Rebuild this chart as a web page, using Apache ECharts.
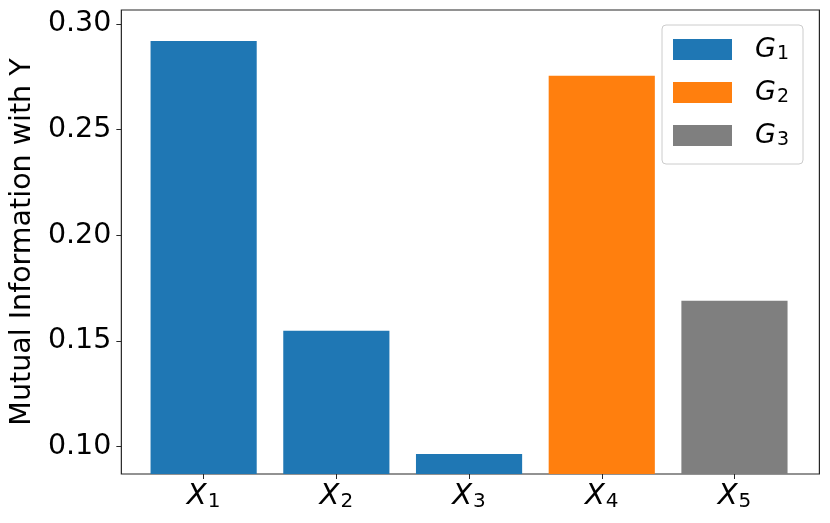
<!DOCTYPE html>
<html>
<head>
<meta charset="utf-8">
<script src="https://cdn.jsdelivr.net/npm/echarts@6/dist/echarts.min.js"></script>
<style>
html,body{margin:0;padding:0;background:#fff;}
#chart{width:830px;height:523px;}
</style>
</head>
<body>
<div id="chart"></div>
<script>
// ---- data ----
const categories = ['1', '2', '3', '4', '5'];          // subscripts of X
const values = [0.2920, 0.1549, 0.0966, 0.2755, 0.1691];
const groupOf = ['1', '1', '1', '2', '3'];             // group of each bar
const groups = ['1', '2', '3'];                        // subscripts of G
const groupColors = ['#1f77b4', '#ff7f0e', '#7f7f7f'];
const yTicks = [0.10, 0.15, 0.20, 0.25, 0.30];
const yMin = 0.08708, yMax = 0.30662;
const yTitle = 'Mutual Information with Y';

const FONT = 'DejaVu Sans';
const chart = echarts.init(document.getElementById('chart'), null, {renderer: 'canvas'});

const series = groups.map((g, gi) => ({
  name: 'G' + g,
  type: 'bar',
  xAxisIndex: 1,
  yAxisIndex: 1,
  barWidth: '80%',
  barGap: '-100%',
  itemStyle: {color: groupColors[gi]},
  data: values.map((v, i) => groupOf[i] === g ? v : '-')
}));

const option = {
  animation: false,
  backgroundColor: '#fff',
  grid: [
    {left: 118.7, right: 10.6, top: 10, bottom: 49, show: true,
     borderColor: '#262626', borderWidth: 1.2, backgroundColor: 'transparent'},
    {left: 137.28, right: 29.18, top: 10, bottom: 49}
  ],
  xAxis: [
    {gridIndex: 0, type: 'value', min: 0, max: 1, show: false},
    {gridIndex: 1, type: 'category', data: categories,
     axisLine: {show: false},
     axisTick: {show: true, alignWithLabel: true, length: 5, lineStyle: {color: '#262626', width: 1}},
     axisLabel: {
       margin: 8,
       formatter: v => '{x|X}{s|' + v + '}',
       rich: {
         x: {fontFamily: FONT, fontStyle: 'italic', fontSize: 29, lineHeight: 29, color: '#000', verticalAlign: 'top'},
         s: {fontFamily: FONT, fontSize: 20, lineHeight: 20, color: '#000', verticalAlign: 'top', padding: [10, 0, 0, 1]}
       }
     },
     splitLine: {show: false}}
  ],
  yAxis: [
    {gridIndex: 0, type: 'value', min: yMin, max: yMax,
     name: yTitle, nameLocation: 'middle', nameGap: 84,
     nameTextStyle: {fontFamily: FONT, fontSize: 28.5, color: '#000'},
     axisLine: {show: false},
     axisTick: {show: true, length: 5, customValues: yTicks, lineStyle: {color: '#262626', width: 1}},
     axisLabel: {customValues: yTicks, margin: 10, fontFamily: FONT, fontSize: 28.5, color: '#000',
                 formatter: v => v.toFixed(2)},
     splitLine: {show: false}},
    {gridIndex: 1, type: 'value', min: yMin, max: yMax, show: false, splitLine: {show: false}}
  ],
  legend: {
    orient: 'vertical',
    left: 662, top: 25,
    padding: [11, 14, 14, 11],
    itemWidth: 59, itemHeight: 21, itemGap: 15,
    icon: 'rect',
    backgroundColor: '#fff',
    borderColor: '#cccccc', borderWidth: 1, borderRadius: 4,
    data: groups.map(g => 'G' + g),
    formatter: name => '{g|G}{s|' + name.slice(1) + '}',
    textStyle: {
      rich: {
        g: {fontFamily: FONT, fontStyle: 'italic', fontSize: 27, lineHeight: 27, color: '#000', verticalAlign: 'top', padding: [0, 0, 0, 18]},
        s: {fontFamily: FONT, fontSize: 19, lineHeight: 19, color: '#000', verticalAlign: 'top', padding: [9, 0, 0, 1]}
      }
    }
  },
  series: series
};
chart.setOption(option);
</script>
</body>
</html>
